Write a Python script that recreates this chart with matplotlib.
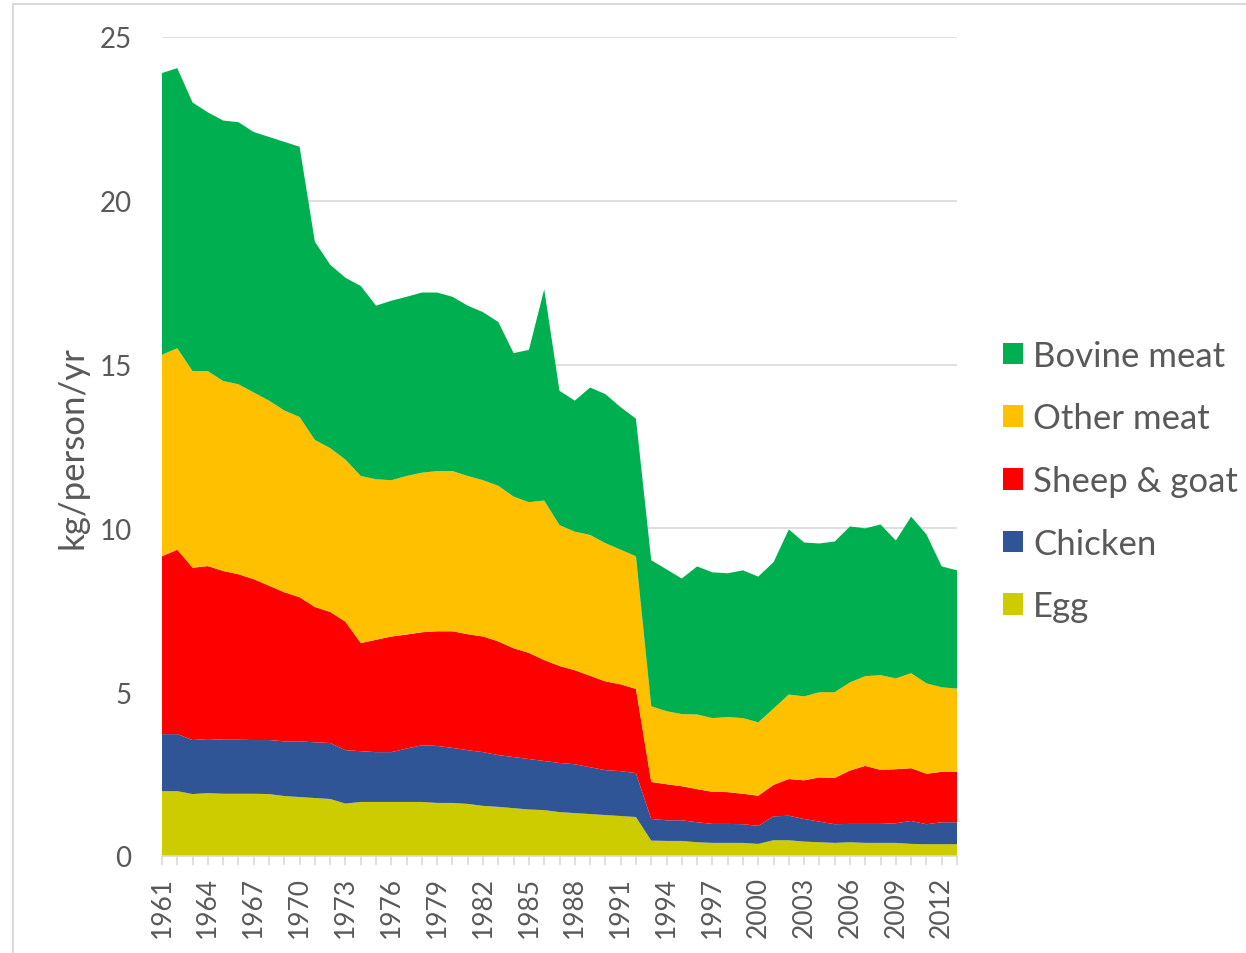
import numpy as np
import matplotlib.pyplot as plt
from matplotlib.patches import Rectangle, Patch

plt.rcParams['font.family'] = ['Lato', 'DejaVu Sans']

years = list(range(1961, 2014))

egg = [1.98, 1.98, 1.89, 1.92, 1.90, 1.90, 1.90, 1.89, 1.83, 1.80,
       1.77, 1.74, 1.60, 1.65, 1.65, 1.65, 1.65, 1.65, 1.62, 1.62,
       1.59, 1.53, 1.50, 1.46, 1.42, 1.40, 1.34, 1.31, 1.28, 1.25,
       1.22, 1.19, 0.47, 0.46, 0.46, 0.42, 0.40, 0.40, 0.40, 0.37,
       0.48, 0.48, 0.44, 0.42, 0.40, 0.42, 0.40, 0.40, 0.40, 0.37,
       0.36, 0.36, 0.36]
chicken = [1.74, 1.74, 1.65, 1.65, 1.65, 1.65, 1.64, 1.65, 1.67, 1.70,
           1.70, 1.71, 1.63, 1.55, 1.52, 1.52, 1.63, 1.73, 1.74, 1.68,
           1.64, 1.64, 1.58, 1.56, 1.54, 1.50, 1.50, 1.49, 1.43, 1.37,
           1.37, 1.34, 0.66, 0.63, 0.63, 0.61, 0.58, 0.58, 0.57, 0.55,
           0.73, 0.75, 0.69, 0.63, 0.57, 0.56, 0.58, 0.58, 0.60, 0.70,
           0.61, 0.67, 0.67]
sheep_goat = [5.43, 5.63, 5.26, 5.28, 5.15, 5.05, 4.91, 4.71, 4.55, 4.40,
              4.13, 4.00, 3.92, 3.30, 3.43, 3.53, 3.48, 3.45, 3.50, 3.56,
              3.54, 3.53, 3.47, 3.32, 3.24, 3.08, 2.96, 2.87, 2.79, 2.71,
              2.65, 2.57, 1.13, 1.10, 1.04, 1.01, 0.98, 0.97, 0.93, 0.92,
              0.96, 1.12, 1.18, 1.35, 1.41, 1.63, 1.77, 1.65, 1.65, 1.61,
              1.54, 1.54, 1.54]
other_meat = [6.15, 6.15, 6.00, 5.95, 5.80, 5.80, 5.70, 5.65, 5.55, 5.50,
              5.10, 5.00, 4.95, 5.10, 4.90, 4.77, 4.84, 4.87, 4.89, 4.89,
              4.83, 4.77, 4.75, 4.63, 4.60, 4.87, 4.30, 4.23, 4.30, 4.22,
              4.11, 4.05, 2.31, 2.23, 2.20, 2.28, 2.25, 2.29, 2.31, 2.24,
              2.33, 2.58, 2.56, 2.60, 2.62, 2.69, 2.74, 2.89, 2.77, 2.90,
              2.76, 2.58, 2.54]
bovine = [8.60, 8.55, 8.20, 7.90, 7.95, 8.00, 7.95, 8.05, 8.20, 8.25,
          6.05, 5.60, 5.55, 5.80, 5.30, 5.48, 5.47, 5.50, 5.45, 5.32,
          5.20, 5.13, 5.00, 4.38, 4.65, 6.45, 4.10, 4.00, 4.50, 4.55,
          4.35, 4.20, 4.46, 4.33, 4.14, 4.52, 4.45, 4.39, 4.51, 4.45,
          4.47, 5.04, 4.70, 4.54, 4.60, 4.76, 4.51, 4.60, 4.21, 4.78,
          4.55, 3.69, 3.61]

labels = ['Egg', 'Chicken', 'Sheep & goat', 'Other meat', 'Bovine meat']
colors = ['#CCCC00', '#2F5597', '#FF0000', '#FFC000', '#00B050']
text_color = '#595959'

fig = plt.figure(figsize=(12.46, 9.54), dpi=100)
# chart border (Excel style)
fig.patches.append(Rectangle((13 / 1246, -0.1), 1.2, 1 - 5 / 954 + 0.1,
                             transform=fig.transFigure, fill=False,
                             edgecolor='#D9D9D9', linewidth=1.5))
ax = fig.add_axes([162 / 1246, 1 - 857 / 954, (957 - 162) / 1246, (857 - 38) / 954])

ax.stackplot(years, egg, chicken, sheep_goat, other_meat, bovine,
             colors=colors, linewidth=0)

ax.set_xlim(1961, 2013)
ax.set_ylim(0, 25)
ax.set_yticks([0, 5, 10, 15, 20, 25])
ax.yaxis.grid(True, color='#D9D9D9', linewidth=1.2)
ax.set_axisbelow(True)
for s in ['top', 'right', 'left']:
    ax.spines[s].set_visible(False)
ax.spines['bottom'].set_color('#D9D9D9')
ax.spines['bottom'].set_linewidth(1.2)

ax.set_xticks(years)
ax.set_xticklabels([str(y) if (y - 1961) % 3 == 0 else '' for y in years],
                   rotation=90, fontsize=19, color=text_color)
ax.tick_params(axis='x', length=6.5, width=1.2, color='#D9D9D9', pad=8)
ax.tick_params(axis='y', length=0, labelsize=20, labelcolor=text_color, pad=22)

ax.set_ylabel('kg/person/yr', fontsize=25, color=text_color, labelpad=8)

handles = [Patch(facecolor=c, label=l) for c, l in zip(colors, labels)][::-1]
leg = fig.legend(handles=handles, loc='center left',
                 bbox_to_anchor=(1003 / 1246, 1 - 482 / 954),
                 frameon=False, fontsize=25, labelcolor=text_color,
                 borderpad=0, borderaxespad=0,
                 handlelength=0.58, handleheight=0.58, handletextpad=0.29,
                 labelspacing=0.88)

fig.savefig('out.png', dpi=100)
